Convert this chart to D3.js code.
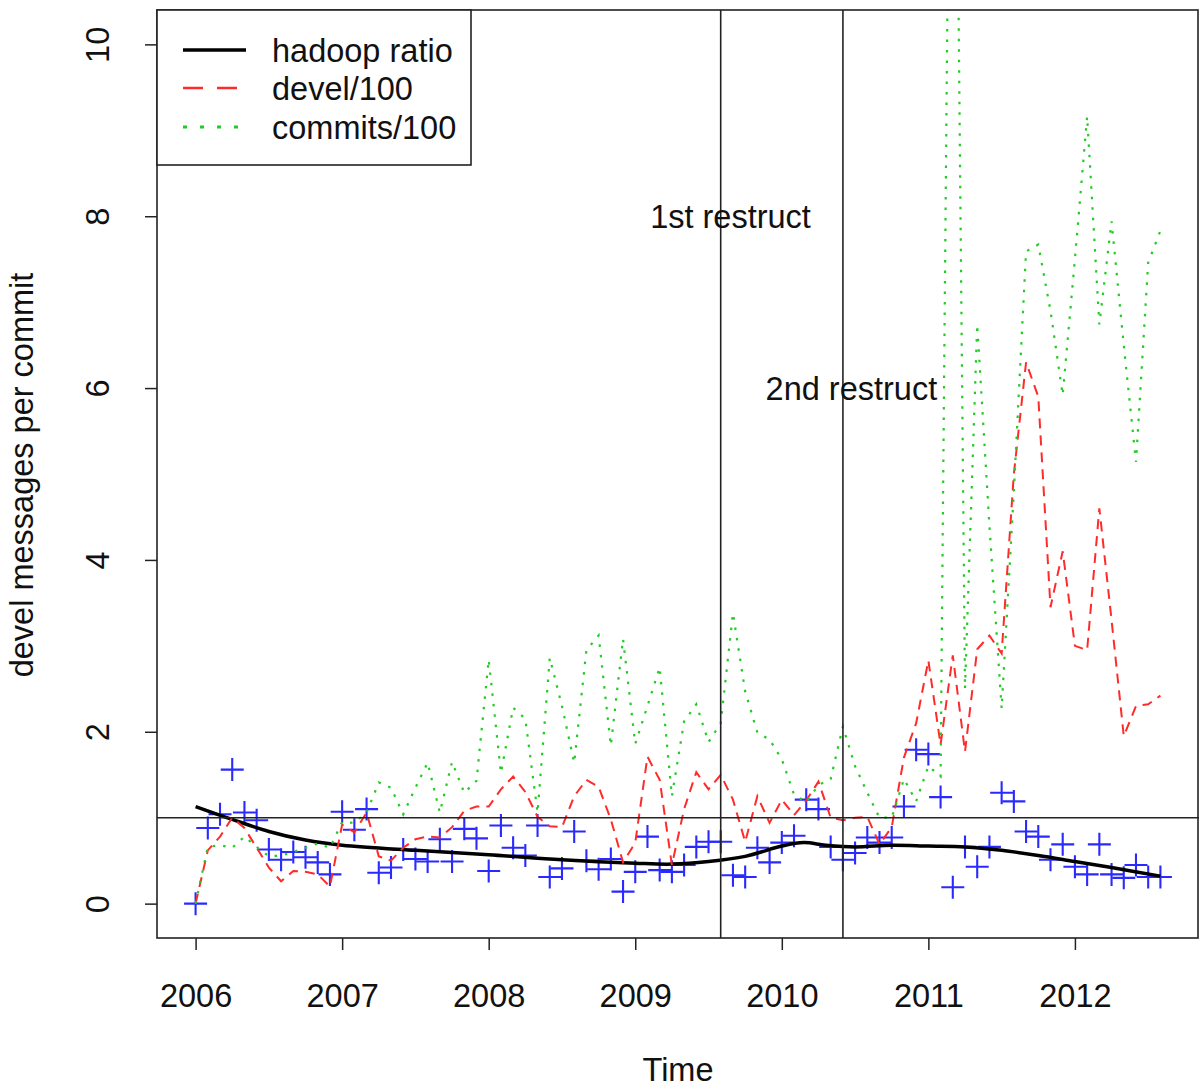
<!DOCTYPE html>
<html>
<head>
<meta charset="utf-8">
<script src="https://cdn.jsdelivr.net/npm/d3@7"></script>
<style>
  body { margin: 0; background: #fff; }
  text { font-family: "Liberation Sans", Arial, sans-serif; fill: #111; }
</style>
</head>
<body>
<div id="root"></div>
<script>
// monthly values, Jan 2006 .. Aug 2012
let startYear = 2006;
let hadoopRatio = [
  0.00, 0.88, 1.04, 1.56, 1.06, 0.97, 0.63, 0.51, 0.60, 0.54, 0.48, 0.34,
  1.07, 0.86, 1.10, 0.36, 0.42, 0.63, 0.52, 0.49, 0.75, 0.49, 0.87, 0.76,
  0.38, 0.91, 0.65, 0.56, 0.91, 0.31, 0.41, 0.84, 0.50, 0.40, 0.52, 0.14,
  0.37, 0.78, 0.39, 0.37, 0.45, 0.66, 0.72, 0.72, 0.33, 0.31, 0.65, 0.48,
  0.71, 0.79, 1.21, 1.10, 0.66, 0.51, 0.59, 0.77, 0.71, 0.77, 1.13, 1.79,
  1.74, 1.24, 0.19, 0.66, 0.43, 0.66, 1.29, 1.19, 0.84, 0.78, 0.51, 0.69,
  0.43, 0.34, 0.69, 0.34, 0.30, 0.45, 0.31, 0.31
];
let devel = [
  0.00, 0.62, 0.78, 1.00, 0.88, 0.65, 0.42, 0.26, 0.38, 0.37, 0.34, 0.20,
  0.92, 0.83, 1.06, 0.55, 0.50, 0.65, 0.75, 0.78, 0.77, 0.89, 1.08, 1.13,
  1.13, 1.33, 1.48, 1.30, 1.01, 0.90, 0.89, 1.25, 1.44, 1.36, 0.98, 0.48,
  0.71, 1.71, 1.44, 0.45, 1.10, 1.53, 1.33, 1.50, 1.21, 0.72, 1.25, 0.94,
  1.21, 1.03, 1.20, 1.42, 1.00, 0.97, 1.00, 1.01, 0.69, 0.89, 1.70, 2.10,
  2.83, 1.85, 2.89, 1.77, 2.96, 3.12, 2.91, 5.00, 6.30, 5.90, 3.45, 4.10,
  3.00, 2.95, 4.60, 3.30, 1.95, 2.30, 2.32, 2.42
];
let commits = [
  0.00, 0.66, 0.68, 0.65, 0.78, 0.66, 0.55, 0.56, 0.60, 0.65, 0.70, 0.65,
  0.95, 0.94, 1.06, 1.41, 1.35, 1.04, 1.35, 1.64, 1.06, 1.65, 1.29, 1.43,
  2.84, 1.52, 2.28, 2.15, 1.06, 2.86, 2.30, 1.64, 2.95, 3.12, 1.84, 3.08,
  1.86, 2.30, 2.75, 1.25, 2.12, 2.32, 1.88, 2.10, 3.38, 2.47, 1.99, 1.91,
  1.68, 1.27, 1.18, 1.38, 1.45, 2.06, 1.60, 1.29, 1.00, 1.00, 1.45, 1.19,
  1.60, 1.48, 17.5, 2.50, 6.74, 4.40, 2.27, 4.80, 7.59, 7.67, 6.90, 5.92,
  7.50, 9.16, 6.74, 7.94, 6.50, 5.14, 7.46, 7.83
];
// smoothed hadoop ratio
let smoothTimes = [2006, 2006.25, 2006.5, 2006.75, 2007, 2007.5, 2008, 2008.5, 2009, 2009.25,
  2009.5, 2009.75, 2010, 2010.15, 2010.3, 2010.5, 2010.75, 2011, 2011.25, 2011.5, 2011.75,
  2012, 2012.25, 2012.583];
let smoothValues = [1.13, 0.98, 0.84, 0.74, 0.68, 0.62, 0.57, 0.51, 0.47, 0.46,
  0.49, 0.55, 0.67, 0.71, 0.68, 0.66, 0.68, 0.67, 0.66, 0.62, 0.56,
  0.49, 0.42, 0.32];

let xTicks = [2006, 2007, 2008, 2009, 2010, 2011, 2012];
let yTicks = [0, 2, 4, 6, 8, 10];
let restructYears = [2009.583, 2010.417];
let restructLabels = ["1st restruct", "2nd restruct"];
let restructLabelX = [2009.65, 2010.475];
let restructLabelY = [8, 6];
let refLevel = 1;
let legendNames = ["hadoop ratio", "devel/100", "commits/100"];

let width = 1199, height = 1088;
let plotLeft = 157, plotRight = 1199, plotTop = 10, plotBottom = 938;
let fontSize = 32.5;

let tAt = (i) => startYear + i / 12;
let tEnd = tAt(hadoopRatio.length - 1);
let span = tEnd - startYear;

let x = d3.scaleLinear()
  .domain([startYear - 0.04 * span, tEnd + 0.04 * span])
  .range([plotLeft, plotRight]);
let y = d3.scaleLinear()
  .domain([-0.4, 10.4])
  .range([plotBottom, plotTop]);

let svg = d3.select('#root').append('svg')
  .attr('width', width)
  .attr('height', height);

svg.append('defs').append('clipPath').attr('id', 'plotClip')
  .append('rect')
  .attr('x', plotLeft).attr('y', plotTop)
  .attr('width', plotRight - plotLeft).attr('height', plotBottom - plotTop);

let plot = svg.append('g').attr('clip-path', 'url(#plotClip)');

// points
let pointSize = 11.5;
plot.selectAll('.pt')
  .data(hadoopRatio)
  .enter().append('path')
  .attr('class', 'pt')
  .attr('d', function (d, i) {
    let cx = x(tAt(i)), cy = y(d);
    return 'M' + (cx - pointSize) + ',' + cy + 'H' + (cx + pointSize) +
      'M' + cx + ',' + (cy - pointSize) + 'V' + (cy + pointSize);
  })
  .style('stroke', '#2a2aff')
  .style('stroke-width', '2.1px')
  .style('fill', 'none');

let monthLine = d3.line()
  .x(function (d, i) { return x(tAt(i)); })
  .y(function (d) { return y(d); });

// smooth
let smoothLine = d3.line()
  .x(function (d, i) { return x(smoothTimes[i]); })
  .y(function (d) { return y(d); })
  .curve(d3.curveCatmullRom);

plot.append('path')
  .datum(smoothValues)
  .attr('d', smoothLine)
  .style('fill', 'none')
  .style('stroke', '#000')
  .style('stroke-width', '3.5px');

plot.append('path')
  .datum(devel)
  .attr('d', monthLine)
  .style('fill', 'none')
  .style('stroke', '#ff2a2a')
  .style('stroke-width', '2px')
  .style('stroke-dasharray', '10,7');

plot.append('path')
  .datum(commits)
  .attr('d', monthLine)
  .style('fill', 'none')
  .style('stroke', '#22cc22')
  .style('stroke-width', '2.2px')
  .style('stroke-dasharray', '2.5,8');

// reference lines
plot.append('line')
  .attr('x1', plotLeft).attr('x2', plotRight)
  .attr('y1', y(refLevel)).attr('y2', y(refLevel))
  .style('stroke', '#222').style('stroke-width', '1.6px');

plot.selectAll('.vline')
  .data(restructYears)
  .enter().append('line')
  .attr('class', 'vline')
  .attr('x1', function (d) { return x(d); })
  .attr('x2', function (d) { return x(d); })
  .attr('y1', plotTop).attr('y2', plotBottom)
  .style('stroke', '#222').style('stroke-width', '1.6px');

svg.selectAll('.rlabel')
  .data(restructLabels)
  .enter().append('text')
  .attr('class', 'rlabel')
  .attr('x', function (d, i) { return x(restructLabelX[i]); })
  .attr('y', function (d, i) { return y(restructLabelY[i]) + 12; })
  .attr('text-anchor', 'middle')
  .style('font-size', fontSize + 'px')
  .text(function (d) { return d; });

// axes
let xAxis = svg.append('g')
  .attr('transform', 'translate(0,' + plotBottom + ')')
  .call(d3.axisBottom(x).tickValues(xTicks).tickSize(12).tickPadding(0).tickFormat(d3.format('d')));
xAxis.select('.domain').remove();
xAxis.selectAll('.tick line').style('stroke', '#222').style('stroke-width', '1.5px');
xAxis.selectAll('.tick text')
  .attr('y', 69).attr('dy', null)
  .style('font-size', fontSize + 'px')
  .style('font-family', '"Liberation Sans", Arial, sans-serif');

let yAxis = svg.append('g')
  .attr('transform', 'translate(' + plotLeft + ',0)')
  .call(d3.axisLeft(y).tickValues(yTicks).tickSize(12).tickFormat(d3.format('d')));
yAxis.select('.domain').remove();
yAxis.selectAll('.tick line').style('stroke', '#222').style('stroke-width', '1.5px');
yAxis.selectAll('.tick text')
  .attr('x', null).attr('dy', null)
  .attr('text-anchor', 'middle')
  .attr('transform', 'translate(-48,0) rotate(-90)')
  .style('font-size', fontSize + 'px')
  .style('font-family', '"Liberation Sans", Arial, sans-serif');

// box
svg.append('rect')
  .attr('x', plotLeft).attr('y', plotTop)
  .attr('width', plotRight - plotLeft - 1).attr('height', plotBottom - plotTop)
  .style('fill', 'none')
  .style('stroke', '#222')
  .style('stroke-width', '1.6px');

// titles
svg.append('text')
  .attr('x', (plotLeft + plotRight) / 2)
  .attr('y', 1081)
  .attr('text-anchor', 'middle')
  .style('font-size', fontSize + 'px')
  .text('Time');

svg.append('text')
  .attr('transform', 'translate(33,' + 475 + ') rotate(-90)')
  .attr('text-anchor', 'middle')
  .style('font-size', fontSize + 'px')
  .text('devel messages per commit');

// legend
let legend = svg.append('g');
legend.append('rect')
  .attr('x', plotLeft).attr('y', plotTop)
  .attr('width', 314).attr('height', 155)
  .style('fill', '#fff')
  .style('stroke', '#222')
  .style('stroke-width', '1.6px');

let legendStroke = ['#000', '#ff2a2a', '#22cc22'];
let legendWidth = ['3.5px', '2.5px', '2.8px'];
let legendDash = [null, '20,14', '4,13'];
let legendRows = [50, 88, 127];

legendNames.forEach(function (name, i) {
  legend.append('line')
    .attr('x1', 183).attr('x2', 246)
    .attr('y1', legendRows[i]).attr('y2', legendRows[i])
    .style('stroke', legendStroke[i])
    .style('stroke-width', legendWidth[i])
    .style('stroke-dasharray', legendDash[i]);
  legend.append('text')
    .attr('x', 272)
    .attr('y', legendRows[i] + 12)
    .style('font-size', fontSize + 'px')
    .text(name);
});
</script>
</body>
</html>
